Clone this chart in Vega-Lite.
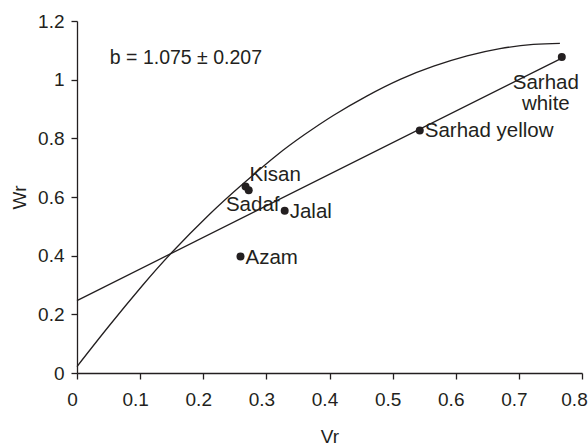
{
  "$schema": "https://vega.github.io/schema/vega-lite/v6.json",
  "width": 505,
  "height": 352,
  "autosize": {"type": "none"},
  "padding": {"left": 77, "top": 21, "right": 6, "bottom": 73},
  "background": "white",
  "config": {
    "font": "Liberation Sans",
    "view": {"stroke": null},
    "axis": {
      "grid": false,
      "domainColor": "#231f20",
      "tickColor": "#231f20",
      "labelColor": "#231f20",
      "titleColor": "#231f20",
      "labelFontSize": 19,
      "titleFontSize": 19,
      "titleFontWeight": "normal",
      "tickSize": 6,
      "domainWidth": 1.3,
      "tickWidth": 1.3
    }
  },
  "datasets": {
    "cultivars": [
      {"cultivar": "Azam", "Vr": 0.259, "Wr": 0.397},
      {"cultivar": "Kisan", "Vr": 0.267, "Wr": 0.636},
      {"cultivar": "Sadaf", "Vr": 0.272, "Wr": 0.623},
      {"cultivar": "Jalal", "Vr": 0.329, "Wr": 0.553},
      {"cultivar": "Sarhad yellow", "Vr": 0.543, "Wr": 0.827},
      {"cultivar": "Sarhad white", "Vr": 0.768, "Wr": 1.077}
    ],
    "regression": [
      {"Vr": 0.0, "Wr": 0.247},
      {"Vr": 0.765, "Wr": 1.07}
    ],
    "parabola": [
      {"Vr": 0.0, "Wr": 0.022},
      {"Vr": 0.051, "Wr": 0.161},
      {"Vr": 0.104, "Wr": 0.299},
      {"Vr": 0.149, "Wr": 0.408},
      {"Vr": 0.210, "Wr": 0.541},
      {"Vr": 0.263, "Wr": 0.645},
      {"Vr": 0.315, "Wr": 0.740},
      {"Vr": 0.360, "Wr": 0.812},
      {"Vr": 0.406, "Wr": 0.878},
      {"Vr": 0.459, "Wr": 0.944},
      {"Vr": 0.512, "Wr": 1.001},
      {"Vr": 0.565, "Wr": 1.046},
      {"Vr": 0.618, "Wr": 1.081},
      {"Vr": 0.670, "Wr": 1.106},
      {"Vr": 0.723, "Wr": 1.120},
      {"Vr": 0.765, "Wr": 1.124}
    ],
    "annotation": [
      {"label": "b = 1.075 ± 0.207", "Vr": 0.052, "Wr": 1.075}
    ]
  },
  "layer": [
    {
      "data": {"name": "parabola"},
      "mark": {"type": "line", "color": "#231f20", "strokeWidth": 1.3, "interpolate": "natural"},
      "encoding": {
        "x": {"field": "Vr", "type": "quantitative", "scale": {"domain": [0, 0.8], "nice": false},
          "axis": {"title": "Vr", "values": [0, 0.1, 0.2, 0.3, 0.4, 0.5, 0.6, 0.7, 0.8], "format": "~g",
            "labelOffset": {"condition": {"test": "datum.value >= 0.8", "value": -8}, "value": -5},
            "labelPadding": 11, "titlePadding": 18, "labelFlush": false}},
        "y": {"field": "Wr", "type": "quantitative", "scale": {"domain": [0, 1.2], "nice": false},
          "axis": {"title": "Wr", "values": [0, 0.2, 0.4, 0.6, 0.8, 1, 1.2], "format": "~g", "labelPadding": 7, "titlePadding": 8, "labelFlush": false}}
      }
    },
    {
      "data": {"name": "regression"},
      "mark": {"type": "line", "color": "#231f20", "strokeWidth": 1.3},
      "encoding": {
        "x": {"field": "Vr", "type": "quantitative"},
        "y": {"field": "Wr", "type": "quantitative"}
      }
    },
    {
      "data": {"name": "cultivars"},
      "mark": {"type": "circle", "color": "#231f20", "opacity": 1, "size": 64},
      "encoding": {
        "x": {"field": "Vr", "type": "quantitative"},
        "y": {"field": "Wr", "type": "quantitative"}
      }
    },
    {
      "data": {"name": "cultivars"},
      "transform": [{"filter": "datum.cultivar === 'Azam' || datum.cultivar === 'Jalal' || datum.cultivar === 'Sarhad yellow'"}],
      "mark": {"type": "text", "align": "left", "baseline": "middle", "dx": 5, "dy": 1, "fontSize": 20.5, "color": "#231f20"},
      "encoding": {
        "x": {"field": "Vr", "type": "quantitative"},
        "y": {"field": "Wr", "type": "quantitative"},
        "text": {"field": "cultivar"}
      }
    },
    {
      "data": {"name": "cultivars"},
      "transform": [{"filter": "datum.cultivar === 'Kisan'"}],
      "mark": {"type": "text", "align": "left", "baseline": "middle", "dx": 4, "dy": -11, "fontSize": 20.5, "color": "#231f20"},
      "encoding": {
        "x": {"field": "Vr", "type": "quantitative"},
        "y": {"field": "Wr", "type": "quantitative"},
        "text": {"field": "cultivar"}
      }
    },
    {
      "data": {"name": "cultivars"},
      "transform": [{"filter": "datum.cultivar === 'Sadaf'"}],
      "mark": {"type": "text", "align": "center", "baseline": "middle", "dx": 4, "dy": 15, "fontSize": 20.5, "color": "#231f20"},
      "encoding": {
        "x": {"field": "Vr", "type": "quantitative"},
        "y": {"field": "Wr", "type": "quantitative"},
        "text": {"field": "cultivar"}
      }
    },
    {
      "data": {"name": "cultivars"},
      "transform": [{"filter": "datum.cultivar === 'Sarhad white'"}],
      "mark": {"type": "text", "align": "center", "baseline": "middle", "dx": -16, "dy": 26, "fontSize": 20.5, "lineHeight": 21, "lineBreak": " ", "color": "#231f20"},
      "encoding": {
        "x": {"field": "Vr", "type": "quantitative"},
        "y": {"field": "Wr", "type": "quantitative"},
        "text": {"field": "cultivar"}
      }
    },
    {
      "data": {"name": "annotation"},
      "mark": {"type": "text", "align": "left", "baseline": "middle", "fontSize": 19.5, "color": "#231f20"},
      "encoding": {
        "x": {"field": "Vr", "type": "quantitative"},
        "y": {"field": "Wr", "type": "quantitative"},
        "text": {"field": "label"}
      }
    }
  ]
}
